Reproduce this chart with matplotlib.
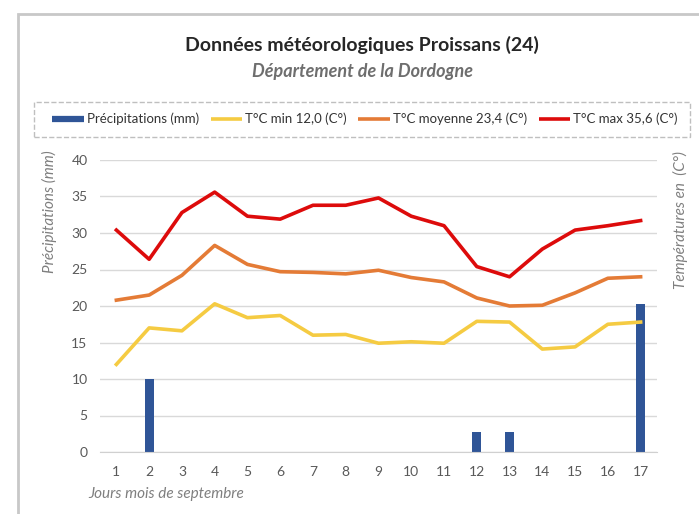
import matplotlib.pyplot as plt
from matplotlib.patches import Rectangle
from matplotlib.lines import Line2D

plt.rcParams['font.family'] = ['Lato', 'DejaVu Sans']

# daily data, September
jours = list(range(1, 18))
precip = [0, 10, 0, 0, 0, 0, 0, 0, 0, 0, 0, 2.8, 2.7, 0, 0, 0, 20.3]
t_min = [12.0, 17.0, 16.6, 20.3, 18.4, 18.7, 16.0, 16.1, 14.9, 15.1, 14.9, 17.9, 17.8, 14.1, 14.4, 17.5, 17.8]
t_moy = [20.8, 21.5, 24.2, 28.3, 25.7, 24.7, 24.6, 24.4, 24.9, 23.9, 23.3, 21.1, 20.0, 20.1, 21.8, 23.8, 24.0]
t_max = [30.4, 26.4, 32.8, 35.6, 32.3, 31.9, 33.8, 33.8, 34.8, 32.3, 31.0, 25.4, 24.0, 27.8, 30.4, 31.0, 31.7]

labels = ['Précipitations (mm)', 'T°C min 12,0 (C°)', 'T°C moyenne 23,4 (C°)', 'T°C max 35,6 (C°)']
c_bar = '#2F5597'
c_min = '#F5CB42'
c_moy = '#E47B36'
c_max = '#DD0B0B'
grey = '#595959'

fig = plt.figure(figsize=(6.99, 5.14), dpi=100)
W, H = 699, 514
# outer frame
fig.patches.append(Rectangle((18 / W, -0.1), 1.1, 1 - 14 / H + 0.1, transform=fig.transFigure,
                             fill=False, edgecolor='#C8C8C8', linewidth=2))
# dashed legend box
fig.patches.append(Rectangle((34 / W, 1 - 137 / H), 656 / W, 35 / H, transform=fig.transFigure,
                             fill=False, edgecolor='#BFBFBF', linewidth=1, linestyle='--'))

ax = fig.add_axes([100 / W, 1 - 452 / H, 557 / W, 292 / H])
ax.bar(jours, precip, width=0.28, color=c_bar, zorder=2)
ax.plot(jours, t_min, color=c_min, lw=2.6, zorder=3)
ax.plot(jours, t_moy, color=c_moy, lw=2.6, zorder=3)
ax.plot(jours, t_max, color=c_max, lw=2.6, zorder=3)

ax.set_xlim(0.5, 17.5)
ax.set_ylim(0, 40)
ax.set_yticks(range(0, 41, 5))
ax.set_xticks(jours)
ax.grid(axis='y', color='#D9D9D9', lw=1)
ax.set_axisbelow(True)
for s in ['left', 'right', 'top']:
    ax.spines[s].set_visible(False)
ax.spines['bottom'].set_color('#D0D0D0')
ax.tick_params(length=0, colors=grey, labelsize=10, pad=10)
ax.tick_params(axis='y', pad=9)

fig.text(49 / W, 1 - 212 / H, 'Précipitations (mm)', style='italic', color='#7F7F7F',
         fontsize=11, rotation=90, ha='center', va='center')
fig.text(88 / W, 1 - 494 / H, 'Jours mois de septembre', style='italic', color='#7F7F7F',
         fontsize=11, ha='left', va='center')
fig.text(680 / W, 1 - 220 / H, 'Températures en  (C°)', style='italic', color='#7F7F7F',
         fontsize=11, rotation=90, ha='center', va='center')

fig.text(362 / W, 1 - 45 / H, 'Données météorologiques Proissans (24)', fontsize=14,
         fontweight='bold', color='#262626', ha='center', va='center')
fig.text(362 / W, 1 - 72 / H, 'Département de la Dordogne', fontsize=13, style='italic',
         fontweight='bold', color='#6E6E6E', ha='center', va='center')

handles = [Line2D([], [], color=c_bar, lw=4.5, solid_capstyle='butt'),
           Line2D([], [], color=c_min, lw=2.6, solid_capstyle='butt'),
           Line2D([], [], color=c_moy, lw=2.6, solid_capstyle='butt'),
           Line2D([], [], color=c_max, lw=2.6, solid_capstyle='butt')]
fig.legend(handles, labels, ncol=4, loc='center', bbox_to_anchor=(365 / W, 1 - 119 / H),
           fontsize=9.5, frameon=False, handlelength=2.4, handletextpad=0.2,
           columnspacing=0.9, labelcolor='#333333')

fig.savefig('out.png', dpi=100)
